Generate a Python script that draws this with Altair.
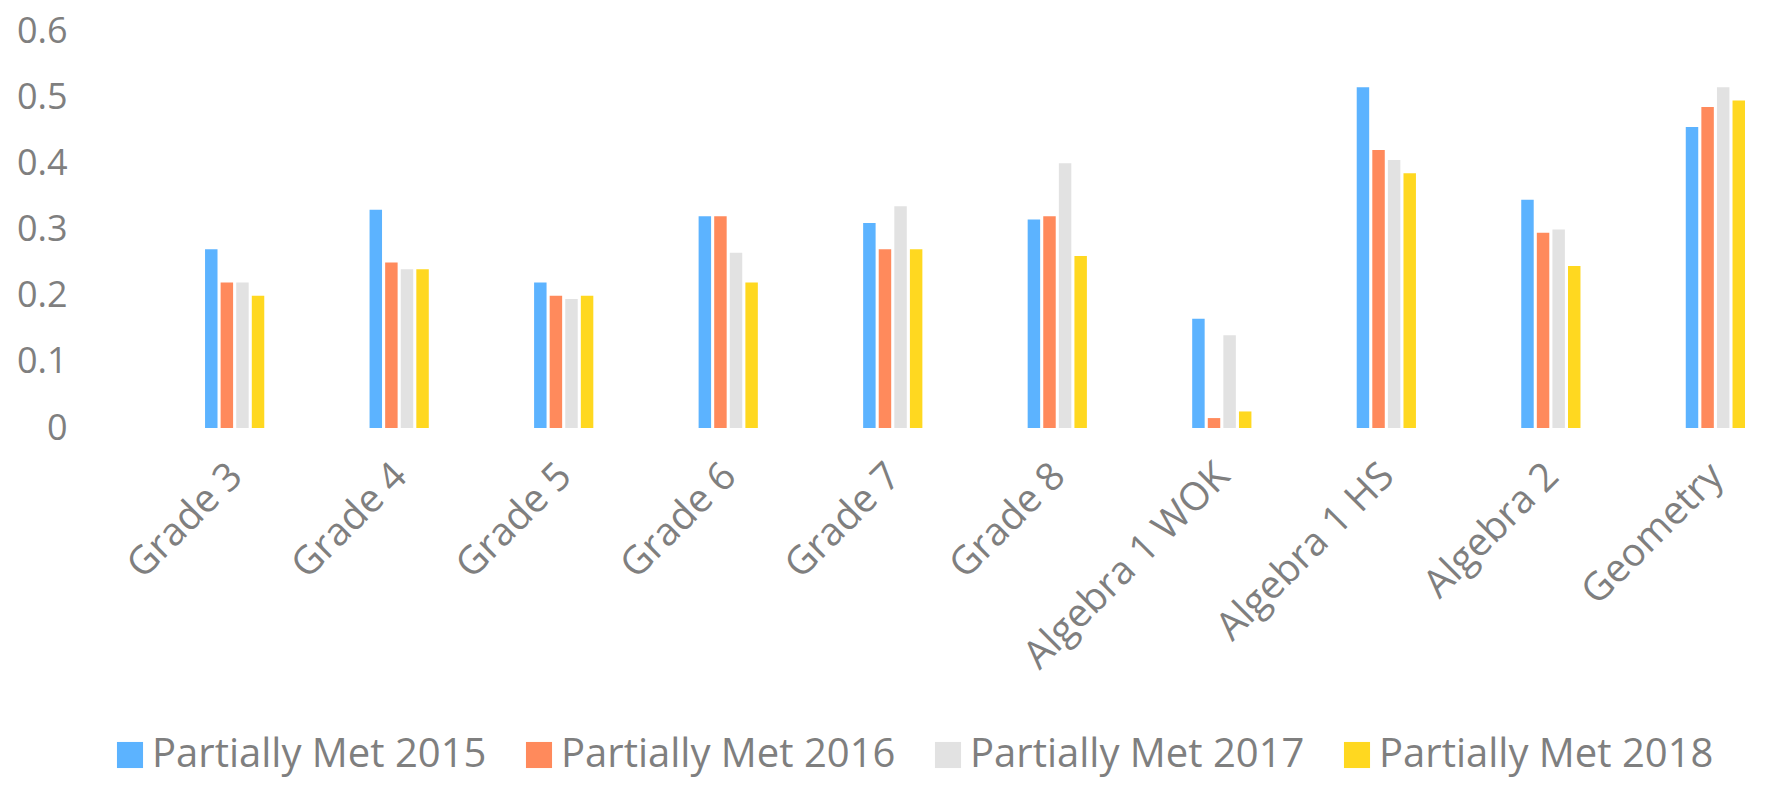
import altair as alt
import pandas as pd

categories = ["Grade 3", "Grade 4", "Grade 5", "Grade 6", "Grade 7", "Grade 8",
              "Algebra 1 WOK", "Algebra 1 HS", "Algebra 2", "Geometry"]
series = ["Partially Met 2015", "Partially Met 2016", "Partially Met 2017", "Partially Met 2018"]
v2015 = [0.27, 0.33, 0.22, 0.32, 0.31, 0.315, 0.165, 0.515, 0.345, 0.455]
v2016 = [0.22, 0.25, 0.20, 0.32, 0.27, 0.32, 0.015, 0.42, 0.295, 0.485]
v2017 = [0.22, 0.24, 0.195, 0.265, 0.335, 0.40, 0.14, 0.405, 0.30, 0.515]
v2018 = [0.20, 0.24, 0.20, 0.22, 0.27, 0.26, 0.025, 0.385, 0.245, 0.495]
colors = ["#5cb3ff", "#ff8a5c", "#e2e2e2", "#ffd820"]

rows = []
for s, vals in zip(series, [v2015, v2016, v2017, v2018]):
    for c, v in zip(categories, vals):
        rows.append({"category": c, "series": s, "value": v})
df = pd.DataFrame(rows)

FONT = "Open Sans"
TXT = "#7f7f7f"

chart = alt.Chart(df).mark_bar().encode(
    x=alt.X("category:N", sort=categories, title=None,
            scale=alt.Scale(paddingInner=0.64, paddingOuter=0.38, align=1),
            axis=alt.Axis(labelAngle=-45, labelFontSize=39, labelFont=FONT, labelColor=TXT,
                          domain=False, ticks=False, labelPadding=28, labelOffset=-12,
                          labelLimit=400)),
    xOffset=alt.XOffset("series:N", sort=series, scale=alt.Scale(paddingInner=0.2)),
    y=alt.Y("value:Q", title=None,
            scale=alt.Scale(domain=[0, 0.6], nice=False),
            axis=alt.Axis(values=[0, 0.1, 0.2, 0.3, 0.4, 0.5, 0.6], format="~g",
                          labelFontSize=36, labelFont=FONT, labelColor=TXT,
                          domain=False, ticks=False, grid=False, labelPadding=13)),
    color=alt.Color("series:N", sort=series,
                    scale=alt.Scale(domain=series, range=colors),
                    legend=alt.Legend(title=None, orient="none", legendX=30, legendY=704,
                                      direction="horizontal", columns=4,
                                      symbolType="square", symbolSize=680,
                                      symbolStrokeWidth=0,
                                      labelFontSize=40, labelFont=FONT, labelColor=TXT,
                                      labelOffset=2, columnPadding=32, labelLimit=500)),
).properties(
    width=1665, height=397,
    autosize=alt.AutoSizeParams(type="none"),
    padding={"left": 72, "top": 23, "right": 5, "bottom": 351},
).configure_view(stroke=None)

chart.save("out.html", embed_options={"renderer": "svg", "actions": False})
